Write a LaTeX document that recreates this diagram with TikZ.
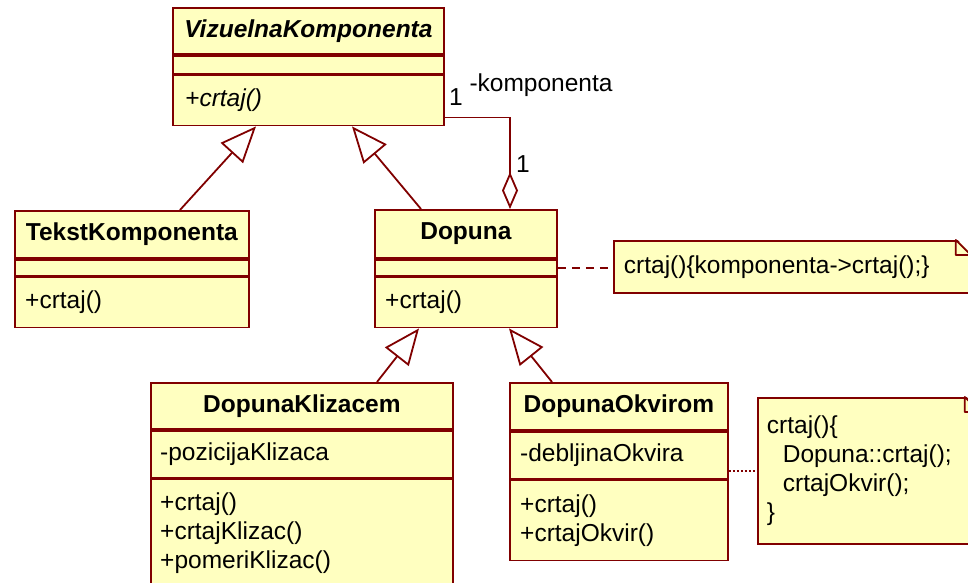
\documentclass[tikz,border=0pt]{standalone}
\usepackage{fontspec}
\setmainfont{Liberation Sans}
\usetikzlibrary{positioning,arrows.meta}
\definecolor{umlred}{RGB}{128,0,0}
\definecolor{umlfill}{RGB}{255,255,192}
\begin{document}
\begin{tikzpicture}[x=1pt,y=-1pt,
	cls/.style={draw=umlred,fill=umlfill,line width=1.8pt,inner sep=0pt,font=\fontsize{24.5}{29}\selectfont\bfseries},
	comp/.style={draw=umlred,fill=umlfill,line width=1.8pt,inner sep=0pt},
	txt/.style={inner sep=0pt,align=left,font=\fontsize{24.5}{29}\selectfont},
	note/.style={draw=umlred,fill=umlfill,line width=1.8pt,inner ysep=0pt,align=left,font=\fontsize{24.5}{29}\selectfont},
	gen/.style={draw=umlred,line width=1.8pt,-{Triangle[open,length=36pt,width=30pt]}},
	agg/.style={draw=umlred,line width=1.8pt,{Diamond[open,length=37pt,width=16pt]}-}]
	
	\useasboundingbox (0,0) rectangle (968,582);
	
	% VizuelnaKomponenta
	\node[cls,anchor=north west,minimum width=271pt,minimum height=46pt] (vk) at (172,7) {\itshape VizuelnaKomponenta};
	\node[comp,below=0pt of vk,minimum width=271pt,minimum height=18pt] (vk-a) {};
	\node[comp,below=0pt of vk-a,minimum width=271pt,minimum height=50pt] (vk-m) {};
	\node[txt,right=13pt of vk-m.west] (vk-mt) {\itshape +crtaj()};
	
	% TekstKomponenta
	\node[cls,anchor=north west,minimum width=234pt,minimum height=47pt] (tk) at (14,210) {TekstKomponenta};
	\node[comp,below=0pt of tk,minimum width=234pt,minimum height=16pt] (tk-a) {};
	\node[comp,below=0pt of tk-a,minimum width=234pt,minimum height=50pt] (tk-m) {};
	\node[txt,right=11pt of tk-m.west] (tk-mt) {+crtaj()};
	
	% Dopuna
	\node[cls,anchor=north west,minimum width=182pt,minimum height=48pt] (dop) at (374,209) {Dopuna};
	\node[comp,below=0pt of dop,minimum width=182pt,minimum height=16pt] (dop-a) {};
	\node[comp,below=0pt of dop-a,minimum width=182pt,minimum height=50pt] (dop-m) {};
	\node[txt,right=11pt of dop-m.west] (dop-mt) {+crtaj()};
	
	% DopunaKlizacem
	\node[cls,anchor=north west,minimum width=302pt,minimum height=46pt] (dk) at (150,382) {DopunaKlizacem};
	\node[comp,below=0pt of dk,minimum width=302pt,minimum height=47pt] (dk-a) {};
	\node[txt,right=10pt of dk-a.west] (dk-at) {-pozicijaKlizaca};
	\node[comp,below=0pt of dk-a,minimum width=302pt,minimum height=110pt] (dk-m) {};
	\node[txt,right=10pt of dk-m.west,yshift=1pt] (dk-mt) {+crtaj()\\+crtajKlizac()\\+pomeriKlizac()};
	
	% DopunaOkvirom
	\node[cls,anchor=north west,minimum width=218pt,minimum height=47pt] (do) at (509,382) {DopunaOkvirom};
	\node[comp,below=0pt of do,minimum width=218pt,minimum height=47pt] (do-a) {};
	\node[txt,right=11pt of do-a.west] (do-at) {-debljinaOkvira};
	\node[comp,below=0pt of do-a,minimum width=218pt,minimum height=80pt] (do-m) {};
	\node[txt,right=11pt of do-m.west] (do-mt) {+crtaj()\\+crtajOkvir()};
	
	% notes
	\node[note,anchor=north west,inner xsep=10pt,text width=336pt,minimum height=52pt] (n1) at (613,240) {crtaj()\{komponenta->crtaj();\}};
	\node[note,anchor=north west,inner xsep=9pt,text width=203pt,minimum height=146pt] (n2) at (757,397) {crtaj()\{\\\hspace*{16pt}Dopuna::crtaj();\\\hspace*{16pt}crtajOkvir();\\\}};
	\fill[white] ([xshift=-15pt,yshift=2pt]n1.north east) -- ([xshift=2pt,yshift=2pt]n1.north east) -- ([xshift=2pt,yshift=-15pt]n1.north east) -- cycle;
	\draw[umlred,fill=umlfill,line width=1.8pt,line join=round] ([xshift=-15pt]n1.north east) -- ([yshift=-15pt]n1.north east) -- ([xshift=-15pt,yshift=-15pt]n1.north east) -- cycle;
	\fill[white] ([xshift=-15pt,yshift=2pt]n2.north east) -- ([xshift=2pt,yshift=2pt]n2.north east) -- ([xshift=2pt,yshift=-15pt]n2.north east) -- cycle;
	\draw[umlred,fill=umlfill,line width=1.8pt,line join=round] ([xshift=-15pt]n2.north east) -- ([yshift=-15pt]n2.north east) -- ([xshift=-15pt,yshift=-15pt]n2.north east) -- cycle;
	
	% generalizations
	\draw[gen] ([xshift=166pt]tk.north west) -- ([xshift=84pt]vk-m.south west);
	\draw[gen] ([xshift=47pt]dop.north west) -- ([xshift=180pt]vk-m.south west);
	\draw[gen] ([xshift=227pt]dk.north west) -- ([xshift=45pt]dop-m.south west);
	\draw[gen] ([xshift=43pt]do.north west) -- ([xshift=135pt]dop-m.south west);
	
	% aggregation
	\draw[agg] ([xshift=136pt]dop.north west) |- ([yshift=9pt]vk-m.south east);
	\node[txt] (m1) at (456,97) {1};
	\node[txt] (rn) at (541,85) {-komponenta};
	\node[txt] (m2) at (523,164) {1};
	
	% note links
	\draw[umlred,line width=1.8pt,dash pattern=on 8pt off 6pt] (dop-a.east) -- (dop-a.east -| n1.west);
	\draw[umlred,line width=1.2pt,dash pattern=on 2pt off 2pt] (n2.west -| do-a.east) -- (n2.west);
\end{tikzpicture}
\end{document}
